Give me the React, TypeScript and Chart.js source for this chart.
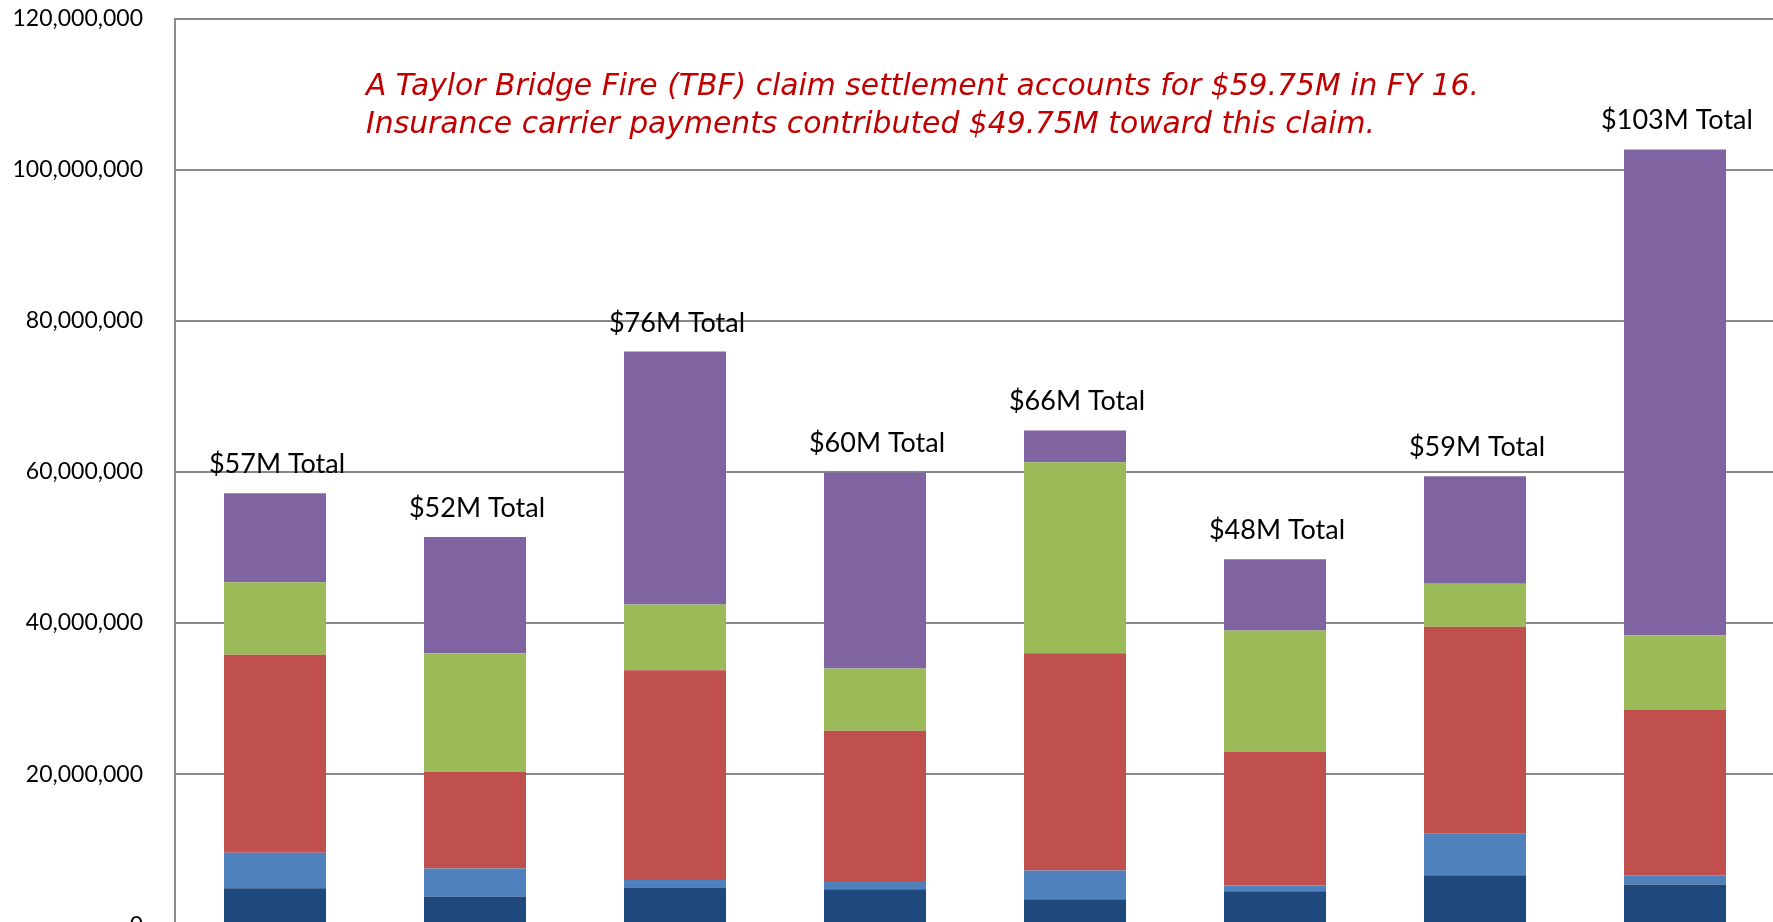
import React, { useEffect, useRef } from "react";
import { Chart, registerables } from "chart.js";

Chart.register(...registerables);

const categories = ["FY 09", "FY 10", "FY 11", "FY 12", "FY 13", "FY 14", "FY 15", "FY 16"];
const seriesDarkBlue = [4900000, 3800000, 5000000, 4750000, 3450000, 4500000, 6600000, 5400000];
const seriesBlue = [4700000, 3700000, 1000000, 1100000, 3800000, 750000, 5500000, 1200000];
const seriesRed = [26200000, 12800000, 27750000, 19900000, 28750000, 17750000, 27400000, 21900000];
const seriesGreen = [9600000, 15700000, 8700000, 8250000, 25300000, 16000000, 5700000, 9900000];
const seriesPurple = [11800000, 15400000, 33500000, 25950000, 4200000, 9450000, 14250000, 64300000];
const totalLabels = ["$57M Total", "$52M Total", "$76M Total", "$60M Total", "$66M Total", "$48M Total", "$59M Total", "$103M Total"];
const noteLines = [
  "A Taylor Bridge Fire (TBF) claim settlement accounts for $59.75M in FY 16.",
  "Insurance carrier payments contributed $49.75M toward this claim.",
];

const CANVAS_SHIFT = 27;

const totalsPlugin = {
  id: "totalsLabels",
  afterDatasetsDraw(chart: any) {
    const ctx = chart.ctx;
    const lastIndex = chart.data.datasets.length - 1;
    const meta = chart.getDatasetMeta(lastIndex);
    ctx.save();
    ctx.font = "27px Lato";
    ctx.fillStyle = "#000000";
    ctx.textAlign = "center";
    ctx.textBaseline = "alphabetic";
    meta.data.forEach((el: any, i: number) => {
      ctx.fillText(totalLabels[i], el.x + 2, el.y - 20);
    });
    ctx.restore();
  },
};

const notePlugin = {
  id: "noteText",
  afterDraw(chart: any) {
    const ctx = chart.ctx;
    ctx.save();
    ctx.font = "italic 29.8px 'DejaVu Sans'";
    ctx.fillStyle = "#C00000";
    ctx.textAlign = "left";
    ctx.textBaseline = "alphabetic";
    ctx.fillText(noteLines[0], 366, 95 + CANVAS_SHIFT);
    ctx.fillText(noteLines[1], 366, 133 + CANVAS_SHIFT);
    ctx.restore();
  },
};

export default function App() {
  const ref = useRef<HTMLCanvasElement | null>(null);
  useEffect(() => {
    if (!ref.current) return;
    const chart = new Chart(ref.current, {
      type: "bar",
      data: {
        labels: categories,
        datasets: [
          { label: "Series 1", data: seriesDarkBlue, backgroundColor: "#1F497D" },
          { label: "Series 2", data: seriesBlue, backgroundColor: "#4F81BD" },
          { label: "Series 3", data: seriesRed, backgroundColor: "#C0504D" },
          { label: "Series 4", data: seriesGreen, backgroundColor: "#9BBB59" },
          { label: "Series 5", data: seriesPurple, backgroundColor: "#8064A2" },
        ],
      },
      options: {
        responsive: false,
        animation: false,
        layout: { padding: { top: 18, right: 5, bottom: 16, left: 0 } },
        plugins: { legend: { display: false }, tooltip: { enabled: false }, title: { display: false } },
        datasets: { bar: { barPercentage: 0.51, categoryPercentage: 1, borderWidth: 0 } },
        scales: {
          x: { stacked: true, display: false },
          y: {
            stacked: true,
            min: 0,
            max: 120000000,
            ticks: {
              stepSize: 20000000,
              padding: 32,
              color: "#000000",
              font: { family: "Lato", size: 23 },
              callback: (v: any) => Number(v).toLocaleString("en-US"),
            },
            grid: { color: "#898989", lineWidth: 2, drawTicks: false },
            border: { display: true, color: "#898989", width: 2 },
            afterFit: (scale: any) => {
              scale.width = 175;
            },
          },
        },
      },
      plugins: [totalsPlugin, notePlugin],
    });
    return () => chart.destroy();
  }, []);
  return (
    <div style={{ position: "fixed", left: 0, top: 0, width: 1773, height: 922, overflow: "hidden", background: "#fff" }}>
      <canvas ref={ref} width={1780} height={998} style={{ display: "block", marginTop: -CANVAS_SHIFT }} />
    </div>
  );
}
